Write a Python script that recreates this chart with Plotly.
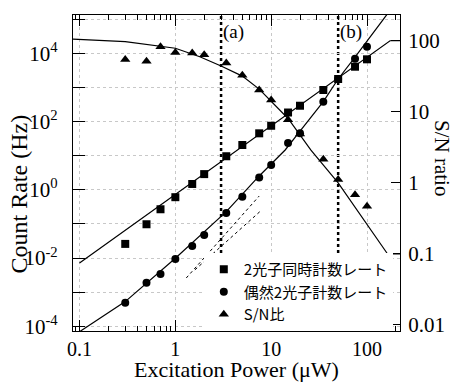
import numpy as np
import plotly.graph_objects as go

# ---- data ----
power = [0.3, 0.5, 0.7, 1, 1.5, 2, 3.4, 5, 7.5, 10, 15, 20, 35, 50, 75, 100]
coinc_rate = [0.026, 0.098, 0.27, 0.61, 1.49, 2.9, 9.7, 20.7, 45.6, 76, 186, 294, 850, 1790, 4100, 6760]
accid_rate = [4.9e-4, 1.9e-3, 3.4e-3, 9.4e-3, 0.0227, 0.0476, 0.21, 0.63, 2.31, 5.4, 23.7, 45.7, 386, 1790, 7040, 15800]
sn_ratio = [55, 52, 83, 69, 68, 64, 49, 33, 20.4, 14.8, 7.8, 4.9, 2.16, 1.12, 0.68, 0.47]

# fitted curves
coinc_fit_x = [0.1, 174, 221]
coinc_fit_y = [0.0072, 23700, 23700]
accid_fit_x = [0.1, 0.3, 1, 3.4, 7.5, 14, 20, 35, 50, 73, 146, 180]
accid_fit_y = [6.9e-5, 5.27e-4, 9.86e-3, 0.23, 2.56, 14.8, 53.3, 386, 1790, 7050, 96000, 210000]
sn_fit_x = [0.0855, 0.3, 1, 1.8, 3, 5, 7.5, 15, 26, 50, 164, 221]
sn_fit_y = [106, 98, 79, 60, 44.5, 32, 21, 8.1, 2.9, 1.0, 0.1, 0.1]
dash1_x = [1.3, 7.5]
dash1_y = [0.0026, 0.66]
dash2_x = [1.6, 8.0]
dash2_y = [0.0045, 0.26]

marker_powers = [3, 50]
marker_labels = ["(a)", "(b)"]

names = ["2光子同時計数レート", "偶然2光子計数レート", "S/N比"]

x_tickvals = [0.1, 1, 10, 100]
y_tickvals = [1e-4, 1e-3, 1e-2, 1e-1, 1, 10, 100, 1e3, 1e4, 1e5]
y_ticktext = ["10<sup>-4</sup>", "", "10<sup>-2</sup>", "", "10<sup>0</sup>", "",
              "10<sup>2</sup>", "", "10<sup>4</sup>", ""]
y2_tickvals = [0.01, 0.1, 1, 10, 100]
y2_ticktext = ["0.01", "0.1", "1", "10", "100"]

SERIF = "Liberation Serif, Times New Roman, serif"
CJK = "Noto Sans CJK JP, sans-serif"

fig = go.Figure()

line_style = dict(color="black", width=1.2)
fig.add_trace(go.Scatter(x=coinc_fit_x, y=coinc_fit_y, mode="lines", line=line_style,
                         showlegend=False, hoverinfo="skip"))
fig.add_trace(go.Scatter(x=accid_fit_x, y=accid_fit_y, mode="lines", line=line_style,
                         showlegend=False, hoverinfo="skip"))
fig.add_trace(go.Scatter(x=dash1_x, y=dash1_y, mode="lines",
                         line=dict(color="black", width=1, dash="3px,3px"),
                         showlegend=False, hoverinfo="skip"))
fig.add_trace(go.Scatter(x=dash2_x, y=dash2_y, mode="lines",
                         line=dict(color="black", width=1, dash="3px,3px"),
                         showlegend=False, hoverinfo="skip"))
fig.add_trace(go.Scatter(x=sn_fit_x, y=sn_fit_y, mode="lines", line=line_style,
                         yaxis="y2", showlegend=False, hoverinfo="skip"))

fig.add_trace(go.Scatter(x=power, y=coinc_rate, mode="markers", name=names[0],
                         marker=dict(symbol="square", size=8, color="black")))
fig.add_trace(go.Scatter(x=power, y=accid_rate, mode="markers", name=names[1],
                         marker=dict(symbol="circle", size=8, color="black")))
fig.add_trace(go.Scatter(x=power, y=sn_ratio, mode="markers", name=names[2], yaxis="y2",
                         marker=dict(symbol="triangle-up", size=9, color="black")))

# vertical dotted guide lines: upper part above the legend box, short part below it
for p, lab in zip(marker_powers, marker_labels):
    for (ya, yb) in [(0.247, 1.0), (0.0, 0.028)]:
        fig.add_shape(type="line", xref="x", yref="paper", x0=p, x1=p, y0=ya, y1=yb,
                      layer="between", line=dict(color="black", width=2.5, dash="dot"))
    fig.add_annotation(xref="x", yref="paper", x=np.log10(p), y=0.946, text=lab,
                       showarrow=False, xanchor="left", yanchor="middle", xshift=0,
                       font=dict(family=SERIF, size=19, color="black"))

axis_common = dict(showline=True, linecolor="black", linewidth=1.2, ticks="inside",
                   tickcolor="black", tickwidth=1, zeroline=False)

fig.update_layout(
    width=456, height=383,
    margin=dict(l=73, r=56, t=15, b=52),
    paper_bgcolor="white", plot_bgcolor="white",
    font=dict(family=SERIF, size=21, color="black"),
    xaxis=dict(type="log", range=[np.log10(0.0855), np.log10(221)],
               tickmode="array", tickvals=x_tickvals, ticktext=["0.1", "1", "10", "100"],
               ticklen=11, mirror="ticks", showgrid=True, gridcolor="#c8c8c8",
               griddash="dot", gridwidth=1,
               minor=dict(ticks="inside", ticklen=5, tickcolor="black", dtick="D1",
                          showgrid=False),
               tickfont=dict(family=SERIF, size=20), **axis_common),
    yaxis=dict(type="log", range=[-4.14, 5.13], tickmode="array", tickvals=y_tickvals,
               ticktext=y_ticktext, ticklen=12, showgrid=True, gridcolor="#c8c8c8",
               griddash="dot", gridwidth=1, tickfont=dict(family=SERIF, size=21),
               ticklabelstandoff=10, **axis_common),
    yaxis2=dict(type="log", overlaying="y", side="right", range=[-2.085, 2.366],
                tickmode="array", tickvals=y2_tickvals, ticktext=y2_ticktext,
                ticklen=9, showgrid=False, tickfont=dict(family=SERIF, size=21),
                ticklabelstandoff=3, **axis_common),
    legend=dict(x=0.40, y=0.247, xanchor="left", yanchor="top",
                bgcolor="white", borderwidth=0,
                font=dict(family=CJK, size=15, color="black"), tracegroupgap=0),
)

fig.add_annotation(xref="paper", yref="paper", x=0.5, y=(331 - 369) / 316,
                   text="Excitation Power (μW)", showarrow=False,
                   font=dict(family=SERIF, size=22), xanchor="center", yanchor="middle")
fig.add_annotation(xref="paper", yref="paper", x=(19 - 73) / 327, y=(331 - 194.5) / 316,
                   text="Count Rate (Hz)", textangle=-90, showarrow=False,
                   xanchor="center", yanchor="middle",
                   font=dict(family=SERIF, size=24))
fig.add_annotation(xref="paper", yref="paper", x=(442 - 73) / 327, y=(331 - 158) / 316,
                   text="S/N ratio", textangle=90, showarrow=False,
                   xanchor="center", yanchor="middle",
                   font=dict(family=SERIF, size=21))

fig.write_html("out.html")
